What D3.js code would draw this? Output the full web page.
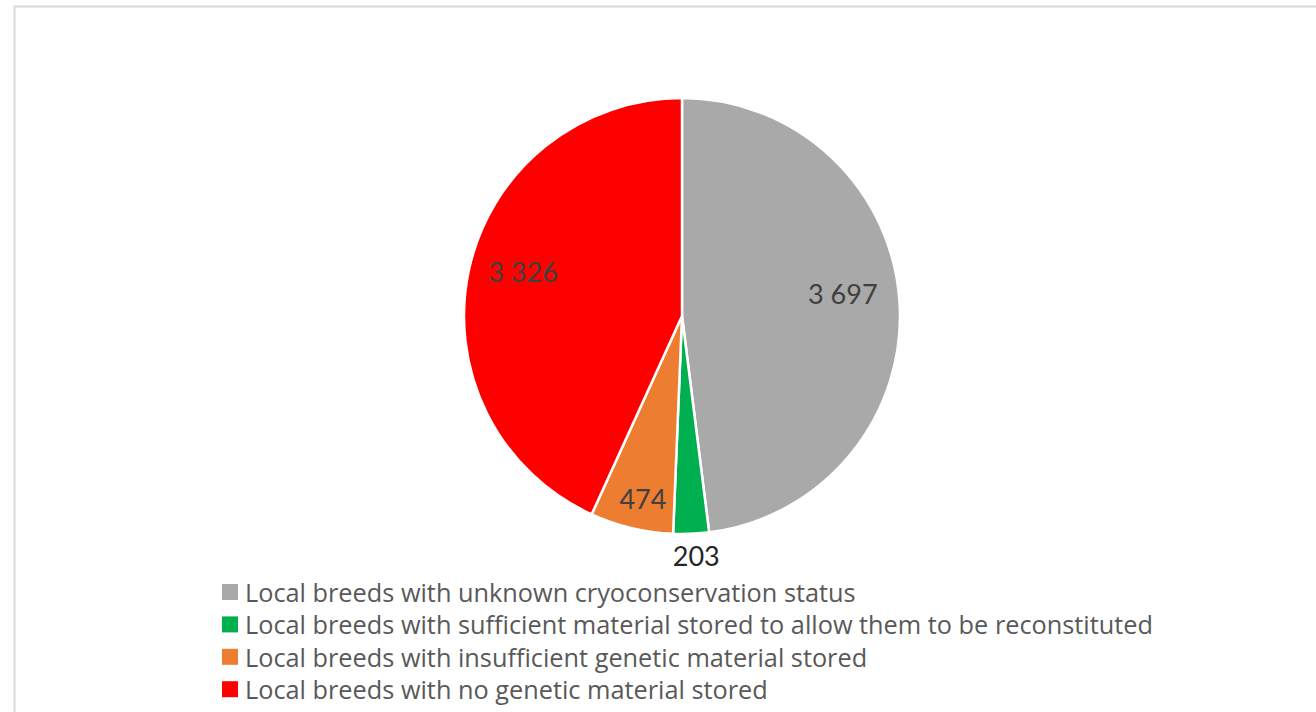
<!DOCTYPE html>
<html><head><meta charset="utf-8">
<script src="https://cdn.jsdelivr.net/npm/d3@7"></script>
<style>body{margin:0;background:#fff;}svg{display:block;}</style>
</head><body>
<svg id="c" width="1316" height="712"></svg>
<script>
const categories = [
  "Local breeds with unknown cryoconservation status",
  "Local breeds with sufficient material stored to allow them to be reconstituted",
  "Local breeds with insufficient genetic material stored",
  "Local breeds with no genetic material stored"
];
const values = [3697, 203, 474, 3326];
const valueLabels = ["3 697", "203", "474", "3 326"];
const colors = ["#a9a9a9", "#00b050", "#ed7d31", "#ff0000"];

const svg = d3.select("#c");
const font = "Lato, 'Open Sans', sans-serif";
const legFont = "'Open Sans', sans-serif";
svg.append("rect").attr("x",14.5).attr("y",6.5).attr("width",1320).attr("height",720)
  .attr("fill","#fff").attr("stroke","#d9d9d9").attr("stroke-width",2);

const cx = 682, cy = 316, r = 218;
const pie = d3.pie().sort(null).value(d => d);
const arcs = pie(values);
const arc = d3.arc().innerRadius(0).outerRadius(r);
const g = svg.append("g").attr("transform", `translate(${cx},${cy})`);
g.selectAll("path").data(arcs).join("path")
  .attr("d", arc).attr("fill", (d,i) => colors[i])
  .attr("stroke", "#fff").attr("stroke-width", 2.5).attr("stroke-linejoin","round");

// label placement (style): radius factor and angle offset per slice
const labelR = [0.745, 1.1, 0.855, 0.757];
const labelDA = [-4.4, -1, -1.3, 3.3];
g.selectAll("text.lbl").data(arcs).join("text").attr("class","lbl")
  .attr("x", (d,i) => { const a = ((d.startAngle+d.endAngle)/2) + labelDA[i]*Math.PI/180; return Math.sin(a)*r*labelR[i]; })
  .attr("y", (d,i) => { const a = ((d.startAngle+d.endAngle)/2) + labelDA[i]*Math.PI/180; return -Math.cos(a)*r*labelR[i]; })
  .attr("text-anchor","middle").attr("dominant-baseline","central")
  .attr("font-family", font).attr("font-size", 27)
  .attr("fill", (d,i) => i === 1 ? "#262626" : "#404040")
  .text((d,i) => valueLabels[i]);

const leg = svg.append("g").attr("transform","translate(222,592)");
const rows = leg.selectAll("g").data(categories).join("g")
  .attr("transform", (d,i) => `translate(0,${i*32.4})`);
rows.append("rect").attr("x",0).attr("y",-8).attr("width",16).attr("height",16)
  .attr("fill", (d,i) => colors[i]);
rows.append("text").attr("x",23).attr("y",0).attr("dominant-baseline","central")
  .attr("font-family", legFont).attr("font-size", 25.3).attr("fill","#595959")
  .text(d => d);
</script>
</body></html>
